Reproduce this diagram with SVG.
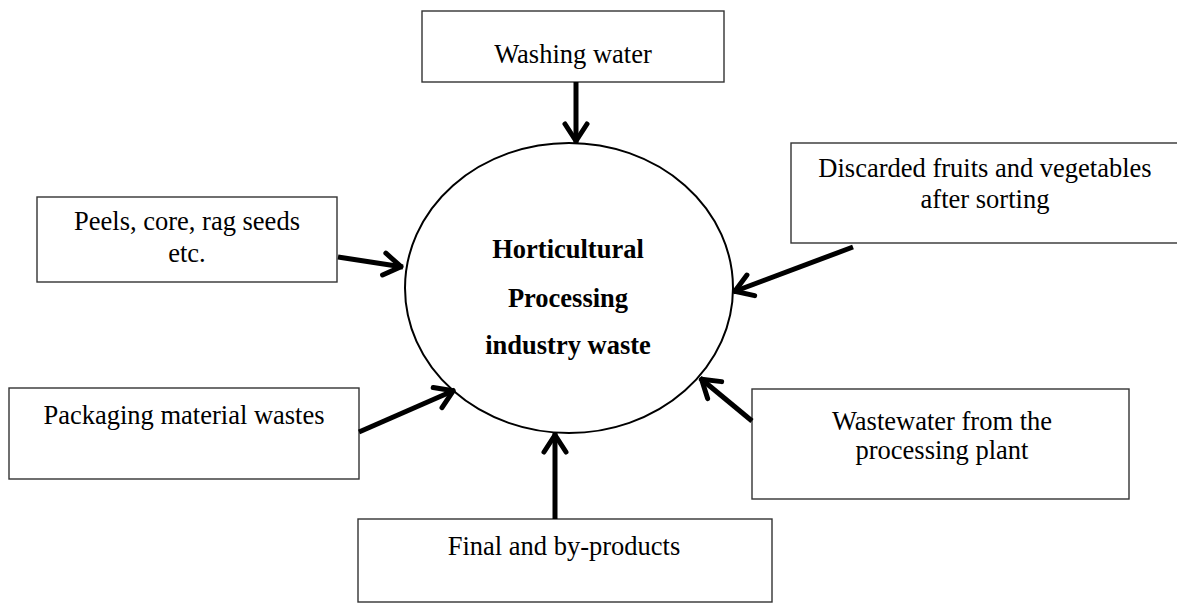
<svg xmlns="http://www.w3.org/2000/svg" width="1177" height="605" viewBox="0 0 1177 605">
<style>
.box{fill:#fff;stroke:#333;stroke-width:1.4}
.t{font-family:"Liberation Serif","Times New Roman",serif;font-size:26.5px;fill:#000;text-anchor:middle}
.b{font-weight:bold}
.arr{stroke:#000;stroke-width:5;fill:none;marker-end:url(#ah)}
</style>
<defs>
<marker id="ah" markerUnits="userSpaceOnUse" markerWidth="40" markerHeight="40" refX="0" refY="0" orient="auto" overflow="visible">
<path d="M-19,-11 L-2,0 L-19,11" fill="none" stroke="#000" stroke-width="5" stroke-linecap="round" stroke-linejoin="round"/>
</marker>
</defs>
<rect width="1177" height="605" fill="#fff"/>
<g id="center">
<ellipse cx="569" cy="288" rx="164" ry="145" fill="#fff" stroke="#000" stroke-width="2"/>
<text class="t b" x="568" y="258">Horticultural</text>
<text class="t b" x="568" y="307">Processing</text>
<text class="t b" x="568" y="354">industry waste</text>
</g>
<g id="washing">
<rect class="box" x="422" y="11" width="302" height="71"/>
<text class="t" x="573" y="63">Washing water</text>
</g>
<g id="discarded">
<rect class="box" x="791" y="143" width="400" height="100"/>
<text class="t" x="985" y="177">Discarded fruits and vegetables</text>
<text class="t" x="985" y="208">after sorting</text>
</g>
<g id="peels">
<rect class="box" x="37" y="197" width="300" height="85"/>
<text class="t" x="187" y="230">Peels, core, rag seeds</text>
<text class="t" x="187" y="262">etc.</text>
</g>
<g id="packaging">
<rect class="box" x="9" y="388" width="350" height="91"/>
<text class="t" x="184" y="424">Packaging material wastes</text>
</g>
<g id="wastewater">
<rect class="box" x="752" y="389" width="377" height="110"/>
<text class="t" x="942" y="430">Wastewater from the</text>
<text class="t" x="942" y="459">processing plant</text>
</g>
<g id="final">
<rect class="box" x="358" y="519" width="414" height="83"/>
<text class="t" x="564" y="555">Final and by-products</text>
</g>
<g id="connectors">
<line class="arr" x1="576" y1="82" x2="576" y2="143"/>
<line class="arr" x1="853" y1="247" x2="733" y2="292"/>
<line class="arr" x1="338" y1="257" x2="403" y2="267"/>
<line class="arr" x1="359" y1="432" x2="455" y2="390"/>
<line class="arr" x1="752" y1="421" x2="700" y2="378"/>
<line class="arr" x1="555" y1="519" x2="555" y2="433"/>
</g>
</svg>
